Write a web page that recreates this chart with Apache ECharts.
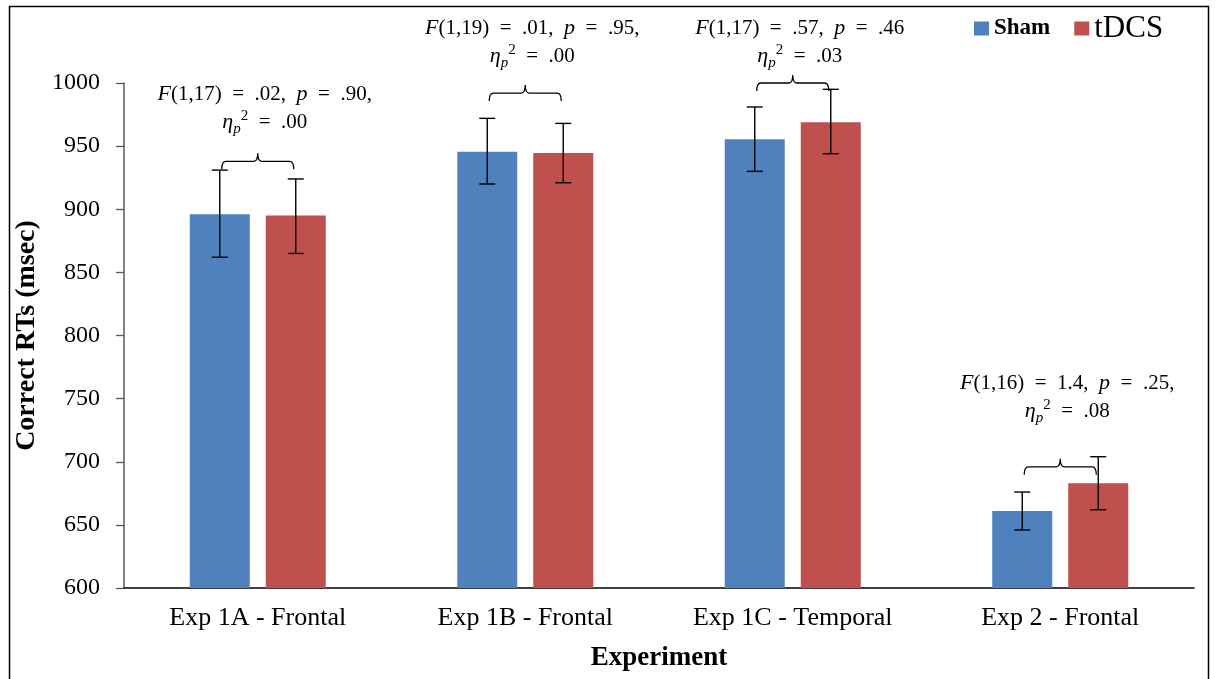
<!DOCTYPE html>
<html><head><meta charset="utf-8">
<script src="https://cdn.jsdelivr.net/npm/echarts@6/dist/echarts.min.js"></script>
<style>html,body{margin:0;padding:0;background:#fff}#c{width:1217px;height:679px}</style>
</head><body><div id="c"></div>
<script>
const categories = ['Exp 1A - Frontal', 'Exp 1B - Frontal', 'Exp 1C - Temporal', 'Exp 2 - Frontal'];
const seriesNames = ['Sham', 'tDCS'];
const shamRT = [896, 945.5, 955.5, 661];
const tdcsRT = [895, 944.5, 969, 683];
const shamErrLow = [862, 920, 930, 646];
const shamErrHigh = [931, 972, 981, 676];
const tdcsErrLow = [865, 921, 944, 662];
const tdcsErrHigh = [924, 968, 995, 704];
const statDf = ['1,17', '1,19', '1,17', '1,16'];
const statF = ['.02', '.01', '.57', '1.4'];
const statP = ['.90,', '.95,', '.46', '.25,'];
const statEta = ['.00', '.00', '.03', '.08'];
const bracketLevel = [938, 992, 1000, 696];
const statLabelLevel = [980, 1032, 1032, 751];
const yTicks = { min: 600, max: 1000, interval: 50 };

const BLUE = '#4F81BD', RED = '#C0504D';
const SERIF = '"Liberation Serif", "Times New Roman", serif';
const BAR_W = 60, BAR_GAP_PX = 16;
const OFFSET = (BAR_W + BAR_GAP_PX) / 2;

const chart = echarts.init(document.getElementById('c'), null, { renderer: 'canvas' });

function errData(lo, hi) { return lo.map((v, i) => [i, v, hi[i]]); }
function errRender(sign) {
  return function (params, api) {
    const i = api.value(0);
    const pLo = api.coord([i, api.value(1)]);
    const pHi = api.coord([i, api.value(2)]);
    const x = pLo[0] + sign * OFFSET;
    const cap = 8;
    const st = { stroke: '#000', lineWidth: 1.4 };
    return { type: 'group', children: [
      { type: 'line', shape: { x1: x, y1: pLo[1], x2: x, y2: pHi[1] }, style: st },
      { type: 'line', shape: { x1: x - cap, y1: pLo[1], x2: x + cap, y2: pLo[1] }, style: st },
      { type: 'line', shape: { x1: x - cap, y1: pHi[1], x2: x + cap, y2: pHi[1] }, style: st }
    ]};
  };
}

const statData = categories.map((c, i) => [i, bracketLevel[i], statLabelLevel[i]]);

function statRender(params, api) {
  const i = api.value(0);
  const pb = api.coord([i, api.value(1)]);
  const pt = api.coord([i, api.value(2)]);
  const xc = pb[0], y = pb[1];
  const x1 = xc - 36, x2 = xc + 36;
  const path = `M${x1},${y + 8} Q${x1},${y} ${x1 + 4},${y} L${xc - 4},${y} Q${xc},${y} ${xc},${y - 8} Q${xc},${y} ${xc + 4},${y} L${x2 - 4},${y} Q${x2},${y} ${x2},${y + 8}`;
  const txt = `{it|F}{n|(${statDf[i]})  =  ${statF[i]},  }{it|p}{n|  =  ${statP[i]}}\n{it|η}{sub|p}{sup|2}{n|  =  ${statEta[i]}}`;
  return { type: 'group', children: [
    { type: 'path', shape: { pathData: path }, style: { fill: 'none', stroke: '#000', lineWidth: 1.3 } },
    { type: 'text', x: xc + 7, y: pt[1], style: {
      text: txt, align: 'center', verticalAlign: 'middle', fill: '#000',
      font: '21px ' + SERIF,
      rich: {
        n: { fontFamily: SERIF, fontSize: 21, lineHeight: 28, color: '#000' },
        it: { fontFamily: SERIF, fontSize: 22, fontStyle: 'italic', lineHeight: 28, color: '#000' },
        sub: { fontFamily: SERIF, fontSize: 15, fontStyle: 'italic', lineHeight: 16, verticalAlign: 'bottom', color: '#000' },
        sup: { fontFamily: SERIF, fontSize: 15, lineHeight: 16, verticalAlign: 'top', color: '#000' }
      }
    } }
  ]};
}

const option = {
  animation: false,
  backgroundColor: '#fff',
  grid: { left: 124, right: 23, top: 83, bottom: 91, containLabel: false },
  legend: {
    data: seriesNames, left: 974, top: 13, padding: 0, icon: 'rect', itemWidth: 15, itemHeight: 14, itemGap: 24,
    formatter: n => n === 'Sham' ? '{a|Sham}' : '{b|tDCS}',
    textStyle: { rich: {
      a: { fontFamily: SERIF, fontSize: 23, fontWeight: 'bold', color: '#000' },
      b: { fontFamily: SERIF, fontSize: 31, color: '#000' }
    } }
  },
  graphic: [{ type: 'rect', shape: { x: 9.5, y: 6.5, width: 1199, height: 700 }, style: { fill: 'none', stroke: '#000', lineWidth: 1.5 }, silent: true }],
  xAxis: {
    type: 'category', data: categories,
    name: 'Experiment', nameLocation: 'middle', nameGap: 57,
    nameTextStyle: { fontFamily: SERIF, fontSize: 27, fontWeight: 'bold', color: '#000' },
    axisLine: { lineStyle: { color: '#000', width: 1.5 } },
    axisTick: { length: 8, lineStyle: { color: '#000', width: 1.3 } },
    axisLabel: { fontFamily: SERIF, fontSize: 26, color: '#000', margin: 17 }
  },
  yAxis: {
    type: 'value', min: yTicks.min, max: yTicks.max, interval: yTicks.interval,
    name: 'Correct RTs (msec)', nameLocation: 'middle', nameGap: 82, nameRotate: 90,
    nameTextStyle: { fontFamily: SERIF, fontSize: 28, fontWeight: 'bold', color: '#000' },
    axisLine: { show: true, lineStyle: { color: '#595959', width: 1.5 } },
    axisTick: { show: true, length: 8, lineStyle: { color: '#595959', width: 1.3 } },
    splitLine: { show: false },
    axisLabel: { fontFamily: SERIF, fontSize: 24, color: '#000', margin: 24, formatter: v => String(v) }
  },
  series: [
    { name: 'Sham', type: 'bar', data: shamRT, barWidth: BAR_W, barGap: (BAR_GAP_PX / BAR_W * 100) + '%', itemStyle: { color: BLUE } },
    { name: 'tDCS', type: 'bar', data: tdcsRT, barWidth: BAR_W, itemStyle: { color: RED } },
    { type: 'custom', renderItem: errRender(-1), data: errData(shamErrLow, shamErrHigh), encode: { x: 0, y: [1, 2] }, z: 5, silent: true },
    { type: 'custom', renderItem: errRender(1), data: errData(tdcsErrLow, tdcsErrHigh), encode: { x: 0, y: [1, 2] }, z: 5, silent: true },
    { type: 'custom', renderItem: statRender, data: statData, encode: { x: 0, y: [1, 2] }, z: 6, silent: true, clip: false }
  ]
};
chart.setOption(option);
</script></body></html>
